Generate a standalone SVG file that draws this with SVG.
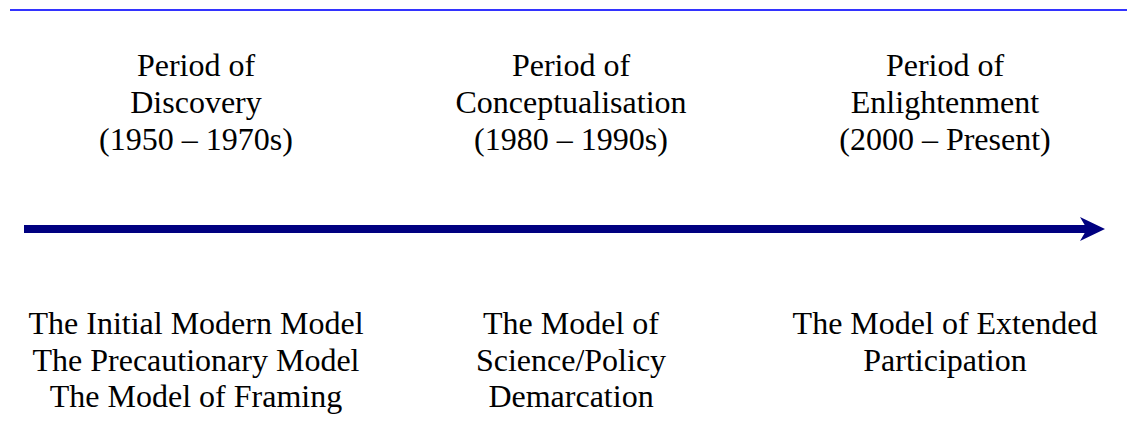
<svg xmlns="http://www.w3.org/2000/svg" width="1127" height="448" viewBox="0 0 1127 448">
<style>
.t{font-family:"Liberation Serif","Times New Roman",serif;font-size:32px;fill:#000;text-anchor:middle}
</style>
<rect width="1127" height="448" fill="#fff"/>
<g id="rule"><rect x="10" y="9" width="1117" height="2" fill="#3333ff"/></g>
<g id="connectors">
<rect x="24" y="225" width="1064" height="8" fill="#000080"/>
<polygon points="1080,217 1105,229 1080,241 1087,229" fill="#000080"/>
</g>
<g id="period1"><text class="t" x="196" y="76">Period of</text><text class="t" x="196" y="113">Discovery</text><text class="t" x="196" y="150">(1950 – 1970s)</text></g>
<g id="period2"><text class="t" x="571" y="76">Period of</text><text class="t" x="571" y="113">Conceptualisation</text><text class="t" x="571" y="150">(1980 – 1990s)</text></g>
<g id="period3"><text class="t" x="945" y="76">Period of</text><text class="t" x="945" y="113">Enlightenment</text><text class="t" x="945" y="150">(2000 – Present)</text></g>
<g id="models1"><text class="t" x="196" y="334">The Initial Modern Model</text><text class="t" x="196" y="371">The Precautionary Model</text><text class="t" x="196" y="407">The Model of Framing</text></g>
<g id="models2"><text class="t" x="571" y="334">The Model of</text><text class="t" x="571" y="371">Science/Policy</text><text class="t" x="571" y="407">Demarcation</text></g>
<g id="models3"><text class="t" x="945" y="334">The Model of Extended</text><text class="t" x="945" y="371">Participation</text></g>
</svg>
